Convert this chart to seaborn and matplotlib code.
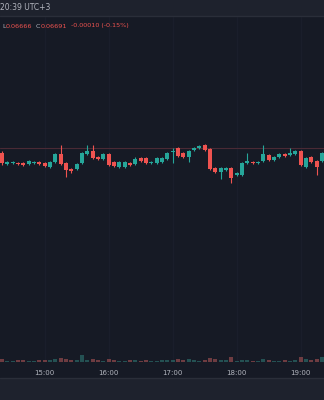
import numpy as np
import pandas as pd
import matplotlib
matplotlib.use("Agg")
import matplotlib.pyplot as plt
from matplotlib.patches import Rectangle
import seaborn as sns

# ---- data (5-minute candles from 14:20) ----
opens = [0.06694, 0.06672, 0.06674, 0.06674, 0.06674, 0.06672, 0.06674, 0.06676, 0.06674, 0.06666,
         0.06676, 0.06692, 0.06674, 0.06662, 0.06662, 0.06674, 0.06692, 0.06698, 0.06686, 0.06682,
         0.06692, 0.06676, 0.06666, 0.06666, 0.06674, 0.06672, 0.06684, 0.06684, 0.06674, 0.06674,
         0.06676, 0.06682, 0.06696, 0.06704, 0.06694, 0.06686, 0.06700, 0.06704, 0.06710, 0.06702,
         0.06664, 0.06656, 0.06660, 0.06664, 0.06650, 0.06650, 0.06674, 0.06676, 0.06674, 0.06678,
         0.06690, 0.06680, 0.06686, 0.06692, 0.06690, 0.06692, 0.06698, 0.06666, 0.06686, 0.06678,
         0.06678]
closes = [0.06674, 0.06676, 0.06676, 0.06672, 0.06670, 0.06678, 0.06676, 0.06672, 0.06668, 0.06676,
          0.06692, 0.06672, 0.06660, 0.06658, 0.06672, 0.06694, 0.06698, 0.06684, 0.06682, 0.06692,
          0.06670, 0.06668, 0.06676, 0.06676, 0.06670, 0.06682, 0.06678, 0.06674, 0.06676, 0.06684,
          0.06684, 0.06694, 0.06698, 0.06688, 0.06686, 0.06698, 0.06704, 0.06708, 0.06700, 0.06662,
          0.06656, 0.06664, 0.06664, 0.06644, 0.06654, 0.06674, 0.06678, 0.06674, 0.06676, 0.06692,
          0.06680, 0.06686, 0.06692, 0.06688, 0.06694, 0.06698, 0.06670, 0.06684, 0.06676, 0.06666,
          0.06694]
highs = [0.06698, 0.06678, 0.06678, 0.06676, 0.06676, 0.06680, 0.06678, 0.06678, 0.06676, 0.06678,
         0.06694, 0.06710, 0.06676, 0.06664, 0.06674, 0.06696, 0.06710, 0.06710, 0.06688, 0.06694,
         0.06694, 0.06678, 0.06678, 0.06678, 0.06676, 0.06686, 0.06686, 0.06686, 0.06678, 0.06686,
         0.06686, 0.06696, 0.06704, 0.06706, 0.06696, 0.06700, 0.06706, 0.06710, 0.06712, 0.06704,
         0.06666, 0.06666, 0.06666, 0.06666, 0.06656, 0.06676, 0.06694, 0.06678, 0.06678, 0.06710,
         0.06692, 0.06688, 0.06694, 0.06694, 0.06704, 0.06700, 0.06700, 0.06686, 0.06688, 0.06680,
         0.06696]
lows = [0.06670, 0.06670, 0.06672, 0.06670, 0.06668, 0.06670, 0.06672, 0.06670, 0.06666, 0.06664,
        0.06674, 0.06670, 0.06646, 0.06654, 0.06660, 0.06672, 0.06690, 0.06682, 0.06680, 0.06680,
        0.06668, 0.06666, 0.06664, 0.06664, 0.06668, 0.06670, 0.06676, 0.06672, 0.06672, 0.06672,
        0.06674, 0.06680, 0.06674, 0.06686, 0.06684, 0.06676, 0.06698, 0.06702, 0.06698, 0.06660,
        0.06654, 0.06642, 0.06658, 0.06634, 0.06648, 0.06648, 0.06672, 0.06672, 0.06672, 0.06676,
        0.06678, 0.06678, 0.06684, 0.06686, 0.06688, 0.06690, 0.06668, 0.06664, 0.06674, 0.06650,
        0.06676]
volumes = [28, 15, 12, 18, 20, 14, 12, 16, 22, 25,
           30, 42, 35, 20, 22, 75, 25, 30, 18, 15,
           28, 20, 14, 12, 16, 18, 15, 20, 12, 14,
           18, 22, 20, 32, 24, 35, 16, 14, 22, 38,
           30, 20, 18, 50, 15, 22, 20, 12, 14, 26,
           18, 12, 14, 16, 14, 18, 50, 26, 20, 30,
           48]
tick_idx = [8, 20, 32, 44, 56]
tick_labels = ["15:00", "16:00", "17:00", "18:00", "19:00"]
price_line = 0.06704
header_time = "20:39 UTC+3"
ohlc_low = "0.06666"
ohlc_close = "0.06691"
ohlc_change = "-0.00010 (-0.15%)"

# ---- styling ----
BG = "#161a25"
PANEL = "#1e222d"
SEP = "#2a2e39"
UP = "#26a69a"
DOWN = "#ef5350"
TXT = "#b2b5be"

sns.set_theme(style="dark", rc={"axes.facecolor": BG, "figure.facecolor": BG})
plt.rcParams["font.family"] = ["DejaVu Sans"]

df = pd.DataFrame({"idx": np.arange(len(opens)), "open": opens, "close": closes,
                   "high": highs, "low": lows, "volume": volumes})
df["dir"] = np.where(df["close"] >= df["open"], "up", "down")

fig = plt.figure(figsize=(3.24, 4.0), dpi=100)
fig.patch.set_facecolor(BG)

# top and bottom bands
fig.patches.append(Rectangle((0, 384 / 400), 1, 16 / 400, transform=fig.transFigure,
                             facecolor=PANEL, edgecolor="none", zorder=0))
fig.patches.append(Rectangle((0, 0), 1, 22 / 400, transform=fig.transFigure,
                             facecolor=PANEL, edgecolor="none", zorder=0))
fig.add_artist(plt.Line2D([0, 1], [384 / 400, 384 / 400], transform=fig.transFigure,
                          color=SEP, lw=1))
fig.add_artist(plt.Line2D([0, 1], [22 / 400, 22 / 400], transform=fig.transFigure,
                          color=SEP, lw=1))

ax = fig.add_axes([0, 38 / 400, 1, 345 / 400])
ax.set_facecolor(BG)
for s in ax.spines.values():
    s.set_visible(False)

# grid
for t in tick_idx:
    ax.axvline(t, color="#1a1e2b", lw=1.0, zorder=0)
ax.axhline(price_line, color="#4a2a35", lw=0.8, zorder=1)

colors = np.where(df["dir"] == "up", UP, DOWN)
ax.vlines(df["idx"], df["low"], df["high"], colors=colors, lw=0.8, zorder=2)
body_bottom = np.minimum(df["open"], df["close"])
body_h = np.maximum(np.abs(df["close"] - df["open"]), 0.00001)
ax.bar(df["idx"], body_h, bottom=body_bottom, width=0.74, color=colors, zorder=3,
       linewidth=0)

ax.set_ylim(0.06276, 0.06966)

# volume on twin axis via seaborn
ax2 = ax.twinx()
sns.barplot(data=df, x="idx", y="volume", hue="dir", palette={"up": UP, "down": DOWN},
            native_scale=True, dodge=False, width=0.74, alpha=0.45, legend=False,
            linewidth=0, ax=ax2)
ax2.set_ylim(0, 3450)
ax2.set_yticks([])
ax2.set_ylabel("")
ax2.set_xlabel("")
for s in ax2.spines.values():
    s.set_visible(False)
ax2.grid(False)

ax.set_xlim(-0.375, 60.4)
ax.set_xticks(tick_idx)
ax.set_xticklabels(tick_labels, color=TXT, fontsize=5)
ax.tick_params(axis="x", length=0, pad=6)
ax2.tick_params(axis="x", length=0, labelbottom=False)
ax.set_yticks([])
ax.grid(False)
ax.set_xlabel("")

# header texts
fig.text(0.0, 392 / 400, header_time, color=TXT, fontsize=5.5, va="center", ha="left")
x0 = 2 / 324
y1 = 374 / 400
parts = [("L", TXT), (ohlc_low, DOWN), ("  C", TXT), (ohlc_close, DOWN), ("  " + ohlc_change, DOWN)]
fig.canvas.draw()
r = fig.canvas.get_renderer()
xc = x0
for s_, c_ in parts:
    t = fig.text(xc, y1, s_, color=c_, fontsize=4.6, va="center", ha="left")
    bb = t.get_window_extent(renderer=r)
    xc += bb.width / fig.bbox.width

fig.savefig("out.png", dpi=100, facecolor=BG)
